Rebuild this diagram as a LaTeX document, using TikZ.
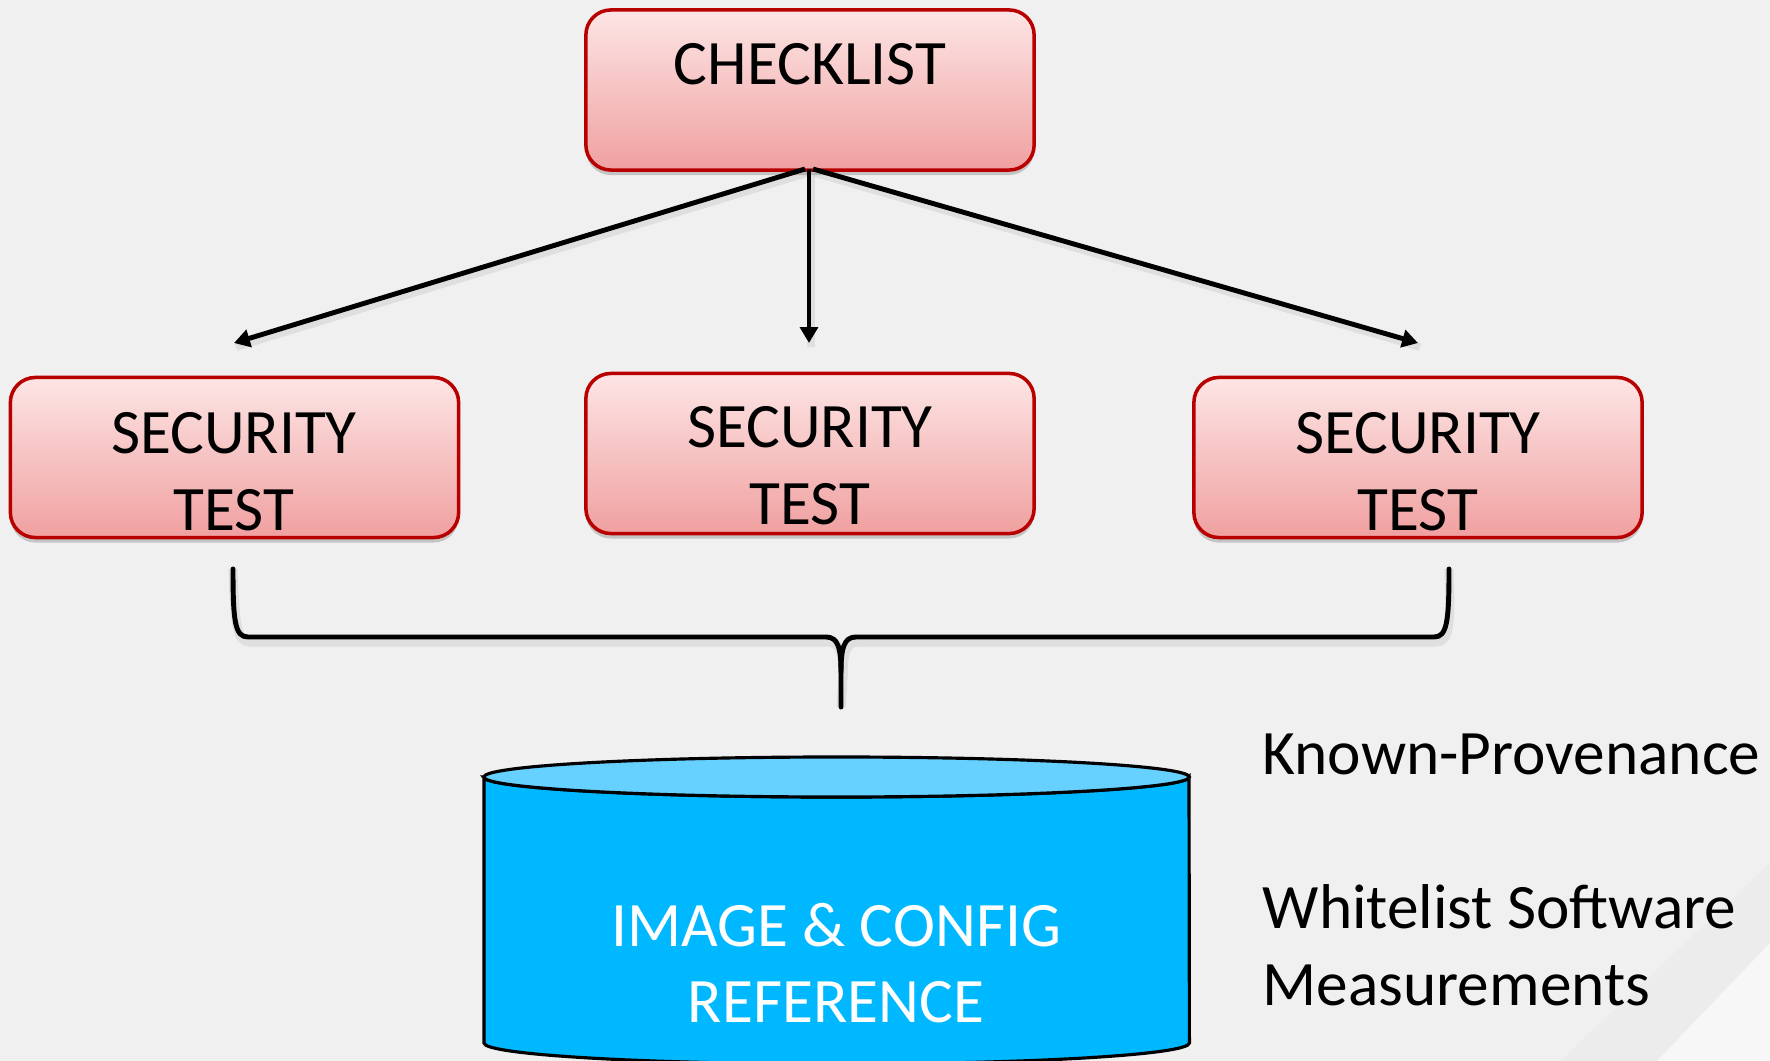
\documentclass[tikz,border=0pt]{standalone}
\usepackage{fontspec}
\setmainfont{Carlito}
\usetikzlibrary{shadows,arrows.meta}
\definecolor{bg}{RGB}{240,240,240}
\definecolor{bandA}{RGB}{236,236,236}
\definecolor{bandB}{RGB}{247,247,247}
\definecolor{boxtop}{RGB}{253,229,229}
\definecolor{boxbot}{RGB}{240,160,160}
\definecolor{boxborder}{RGB}{185,0,0}
\definecolor{cylbody}{RGB}{0,184,255}
\definecolor{cyltop}{RGB}{102,209,255}
\begin{document}
\begin{tikzpicture}[x=0.01cm,y=-0.01cm,
  box/.style={draw=boxborder, line width=1pt, rounded corners=0.25cm,
    top color=boxtop, bottom color=boxbot,
    minimum width=4.48cm, minimum height=1.6cm, inner sep=0pt,
    drop shadow={shadow xshift=0pt, shadow yshift=-0.05cm, opacity=0.18, fill=black}},
  lbl/.style={anchor=base, font=\fontsize{18}{21.6}\selectfont, inner sep=0pt},
  side/.style={anchor=base west, font=\fontsize{18}{21.6}\selectfont, inner sep=0pt},
  conn/.style={line width=1.4pt, -{Triangle[width=5pt,length=4.5pt]}},
  lineshadow/.style={line width=2.2pt, black, opacity=0.07},
  bracestyle/.style={line width=1.4pt, line join=round, line cap=round}]
\useasboundingbox (0,0) rectangle (1770,1061);
\clip (0,0) rectangle (1770,1061);
% background
\fill[bg] (0,0) rectangle (1770,1061);
\fill[bandA] (1770,863) -- (1560,1061) -- (1770,1061) -- cycle;
\fill[bandB] (1770,943) -- (1657,1061) -- (1770,1061) -- cycle;

% boxes
\node[box] (ck) at (810,90) {};
\node[lbl] (ckt) at (810,85) {CHECKLIST};

\node[box] (lb) at (234.5,457.5) {};
\node[lbl] (lb1) at (234,453) {SECURITY};
\node[lbl] (lb2) at (234,530) {TEST};

\node[box] (mb) at (810,453.5) {};
\node[lbl] (mb1) at (810,447) {SECURITY};
\node[lbl] (mb2) at (810,524) {TEST};

\node[box] (rb) at (1418,457.5) {};
\node[lbl] (rb1) at (1418,453) {SECURITY};
\node[lbl] (rb2) at (1418,530) {TEST};

% arrow targets
\coordinate (e1) at (234,343);
\coordinate (e2) at (809,343);
\coordinate (e3) at (1418,343);
\coordinate (s1) at (805,169);
\coordinate (s2) at (809,169);
\coordinate (s3) at (813,169);

\draw[lineshadow] ([shift={(2,4)}]s1) -- ([shift={(2,4)}]e1);
\draw[lineshadow] ([shift={(2,4)}]s2) -- ([shift={(2,4)}]e2);
\draw[lineshadow] ([shift={(2,4)}]s3) -- ([shift={(2,4)}]e3);
\draw[conn] (s1) -- (e1);
\draw[conn] (s2) -- (e2);
\draw[conn] (s3) -- (e3);

% brace
\coordinate (bl) at (233,569);
\coordinate (br) at (1449,569);
\coordinate (bt) at (841,707);
\draw[lineshadow, line width=2.6pt, shift={(2,5)}] (bl) .. controls (233,622) and (235,637) .. (248,637)
  -- (826,637) .. controls (838,637) and (841,648) .. (841,672) -- (bt)
  (br) .. controls (1449,622) and (1447,637) .. (1434,637)
  -- (856,637) .. controls (844,637) and (841,648) .. (841,672);
\draw[bracestyle] (bl) .. controls (233,622) and (235,637) .. (248,637)
  -- (826,637) .. controls (838,637) and (841,648) .. (841,672) -- (bt);
\draw[bracestyle] (br) .. controls (1449,622) and (1447,637) .. (1434,637)
  -- (856,637) .. controls (844,637) and (841,648) .. (841,672);

% cylinder
\filldraw[fill=cylbody, draw=black, line width=0.9pt]
  (484,777) -- (484,1043) arc[start angle=180, end angle=360, x radius=3.525cm, y radius=0.21cm]
  -- (1189,777) arc[start angle=0, end angle=-180, x radius=3.525cm, y radius=0.2cm] -- cycle;
\filldraw[fill=cyltop, draw=black, line width=0.9pt] (836.5,777) ellipse[x radius=3.525cm, y radius=0.2cm];
\node[lbl, text=white] (cy1) at (836,946) {IMAGE \& CONFIG};
\node[lbl, text=white] (cy2) at (836,1022) {REFERENCE};

% side texts
\node[side] (kp) at (1262,774) {Known-Provenance};
\node[side] (ws) at (1262,928) {Whitelist Software};
\node[side] (ms) at (1262,1005) {Measurements};
\end{tikzpicture}
\end{document}
